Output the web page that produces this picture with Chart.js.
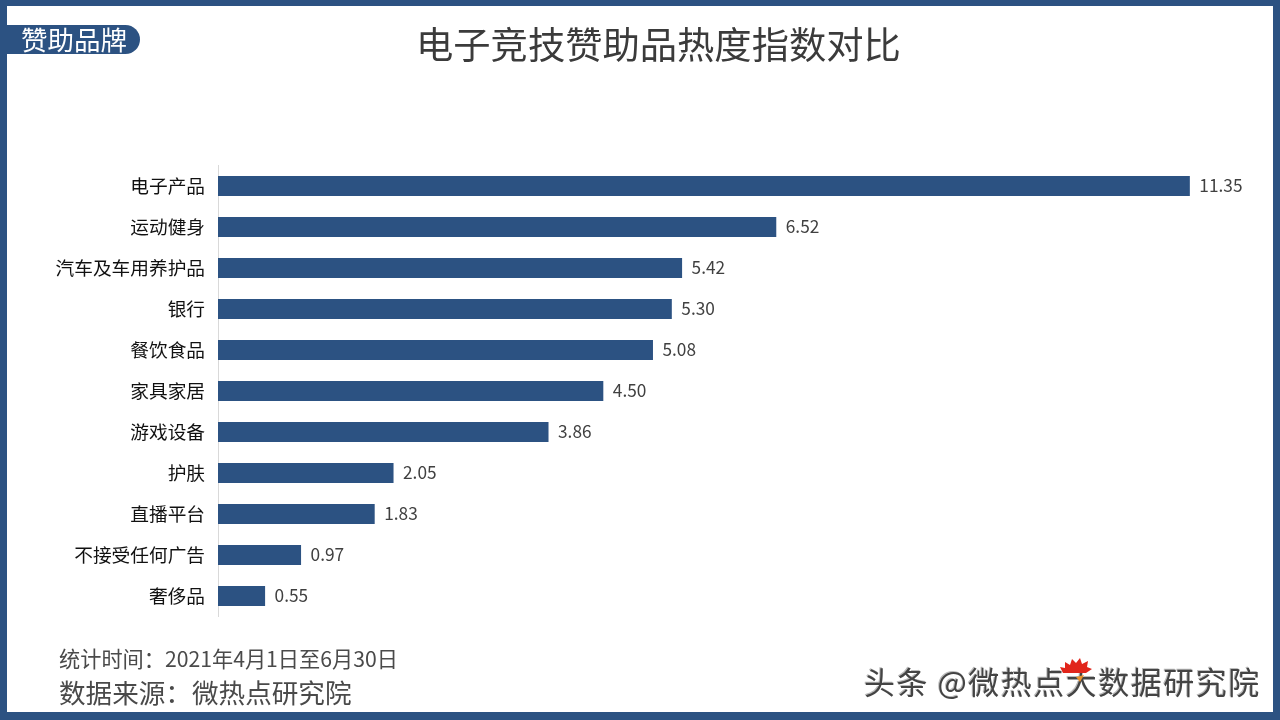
<!DOCTYPE html>
<html>
<head>
<meta charset="utf-8">
<title>电子竞技赞助品热度指数对比</title>
<script src="https://cdn.jsdelivr.net/npm/chart.js@4/dist/chart.umd.min.js"></script>
<style>
    html, body { margin: 0; padding: 0; background: #fff; }
    body { font-family: "Noto Sans CJK SC", sans-serif; }
    #frame { position: relative; width: 1280px; height: 720px; overflow: hidden; }
    #border { position: absolute; left: 0; top: 0; width: 1280px; height: 720px; box-sizing: border-box;
        border-style: solid; border-color: #2c5282; border-width: 6px 7px 8px 7px; pointer-events: none; }
    canvas { position: absolute; left: 0; top: 0; }
    .text { position: absolute; white-space: nowrap; line-height: 1; }
    #title { left: 416px; top: 25px; font-size: 37.3px; color: #3b3b3b; }
    #badge { position: absolute; left: 7px; top: 25px; width: 133px; height: 29px; background: #2c5282; border-radius: 0 15px 15px 0; }
    #badge-text { left: 21px; top: 26px; font-size: 26.5px; color: #fff; }
    #period { left: 59px; top: 647px; font-size: 21.2px; color: #4a4a4a; }
    #source { left: 59px; top: 679px; font-size: 26.6px; color: #4a4a4a; }
    #mark { left: 864px; top: 665px; font-size: 31px; color: #444; text-shadow: 1px 1px 0 #fff, -1px -1px 0 #bbb; letter-spacing: 1.5px; }
    #comb { left: 1060px; top: 658px; width: 32px; height: 24px; }
</style>
</head>
<body>
<div id="frame">
    <canvas id="chart" width="1280" height="720"></canvas>
    <div id="border"></div>
    <div id="badge"></div>
    <div class="text" id="badge-text">赞助品牌</div>
    <div class="text" id="title">电子竞技赞助品热度指数对比</div>
    <div class="text" id="period">统计时间：2021年4月1日至6月30日</div>
    <div class="text" id="source">数据来源：微热点研究院</div>
    <div class="text" id="mark">头条 @微热点大数据研究院</div>
    <svg class="text" id="comb" viewBox="0 0 32 24"><path d="M3 15 L0 9 L5 10 L5 4 L10 7 L12 1 L16 5 L20 0 L22 6 L28 3 L27 9 L32 11 L26 15 Z" fill="#e1251b"/><path d="M16 19 L24 17 L20 24 Z" fill="#e8912c"/></svg>
</div>
<script>
const categories = ['电子产品', '运动健身', '汽车及车用养护品', '银行', '餐饮食品', '家具家居', '游戏设备', '护肤', '直播平台', '不接受任何广告', '奢侈品'];
const heatValues = [11.35, 6.52, 5.42, 5.30, 5.08, 4.50, 3.86, 2.05, 1.83, 0.97, 0.55];

// value labels at the end of each bar
const valueLabels = {
    id: 'valueLabels',
    afterDatasetsDraw(chart) {
        const ctx = chart.ctx;
        ctx.save();
        ctx.font = '17.3px "Noto Sans CJK SC"';
        ctx.fillStyle = '#404040';
        ctx.textBaseline = 'middle';
        chart.getDatasetMeta(0).data.forEach((bar, i) => {
            ctx.fillText(heatValues[i].toFixed(2), bar.x + 9.5, bar.y - 1);
        });
        ctx.restore();
    }
};

new Chart(document.getElementById('chart').getContext('2d'), {
    type: 'bar',
    data: {
        labels: categories,
        datasets: [{
            data: heatValues,
            backgroundColor: '#2c5282',
            barPercentage: 0.488,
            categoryPercentage: 1
        }]
    },
    options: {
        indexAxis: 'y',
        responsive: false,
        animation: false,
        layout: { padding: { top: 165.5, bottom: 103.5, left: 0, right: 34.5 } },
        plugins: { legend: { display: false }, tooltip: { enabled: false } },
        scales: {
            x: { display: false, min: 0, max: 12 },
            y: {
                afterFit(axis) { axis.width = 218; },
                grid: { display: false, drawTicks: false },
                border: { color: '#d9d9d9', width: 1 },
                ticks: {
                    color: '#111',
                    padding: 13,
                    font: { family: '"Noto Sans CJK SC"', size: 18.7 }
                }
            }
        }
    },
    plugins: [valueLabels]
});
</script>
</body>
</html>
